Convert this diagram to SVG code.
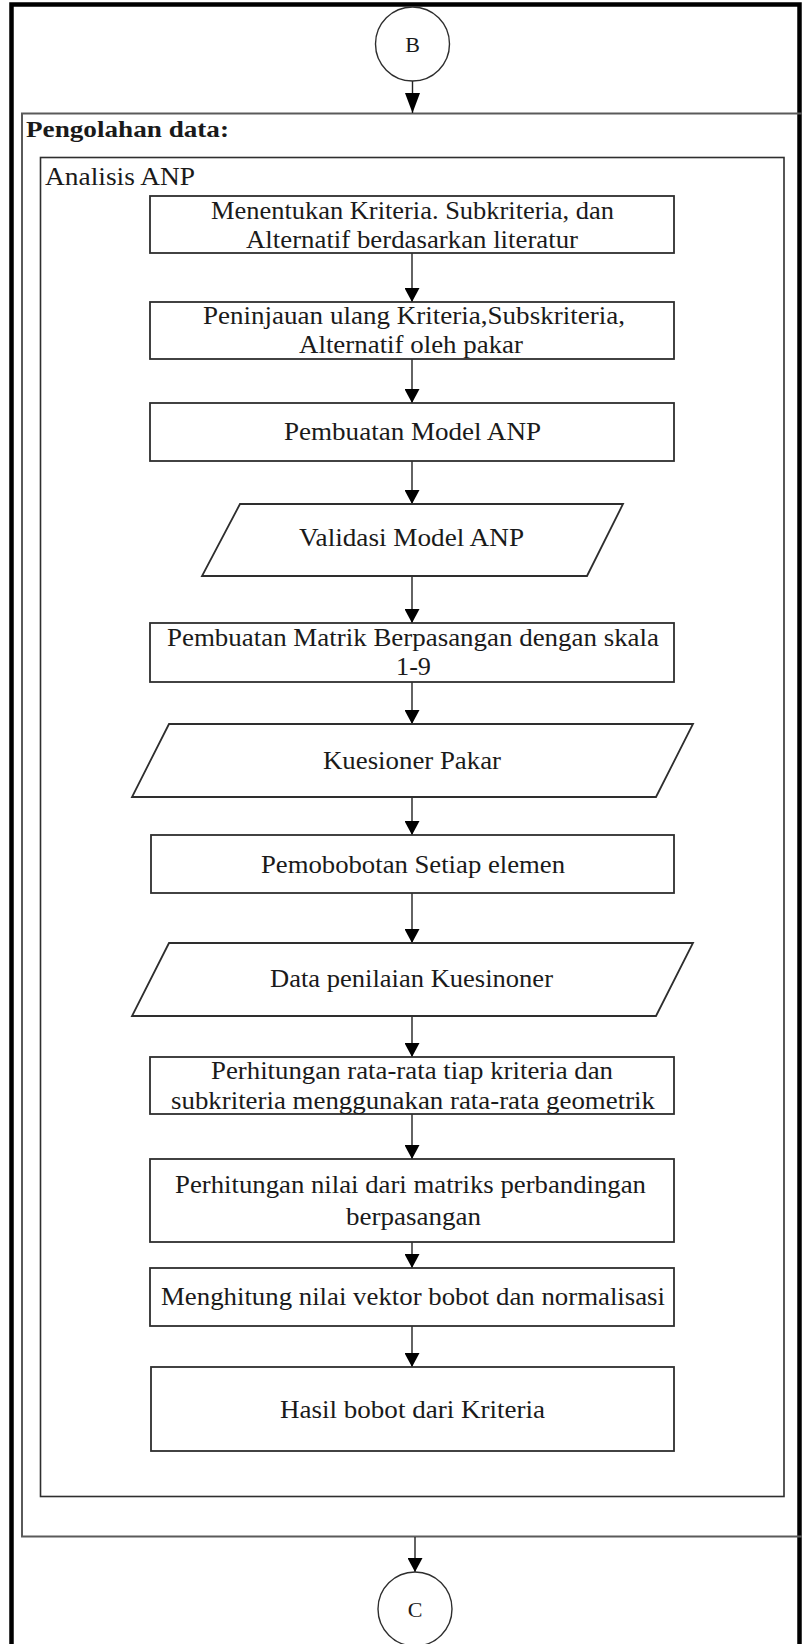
<svg xmlns="http://www.w3.org/2000/svg" width="802" height="1644" viewBox="0 0 802 1644">
  <style>
    .frame { fill: none; stroke: #000; stroke-width: 4.5; }
    .group { fill: none; stroke: #5a5a5a; stroke-width: 2; }
    .inner { fill: none; stroke: #2e2e2e; stroke-width: 1.6; }
    .box { fill: #fff; stroke: #2e2e2e; stroke-width: 1.8; }
    .conn { fill: #fff; stroke: #2e2e2e; stroke-width: 1.4; }
    .edge { fill: none; stroke: #222; stroke-width: 1.4; }
    .t { font-family: "Liberation Serif", "Times New Roman", serif; font-size: 25px; fill: #1a1a1a; text-anchor: middle; }
    .lbl { font-family: "Liberation Serif", "Times New Roman", serif; fill: #1a1a1a; }
    .c { font-family: "Liberation Serif", "Times New Roman", serif; font-size: 22px; fill: #1a1a1a; text-anchor: middle; }
  </style>
  <defs>
    <marker id="arrow" markerUnits="userSpaceOnUse" markerWidth="16" markerHeight="15" refX="14" refY="7.5" orient="auto">
      <path d="M0,0 L14,7.5 L0,15 Z" fill="#000"/>
    </marker>
    <marker id="arrowLong" markerUnits="userSpaceOnUse" markerWidth="22" markerHeight="15" refX="20" refY="7.5" orient="auto">
      <path d="M0,0 L20,7.5 L0,15 Z" fill="#000"/>
    </marker>
  </defs>

  <rect width="802" height="1644" fill="#fff"/>

  <!-- page frame -->
  <rect class="frame" x="11.5" y="4.5" width="788" height="1700"/>

  <!-- process group: Pengolahan data -->
  <g id="pengolahan-data">
    <rect class="group" x="22" y="113.5" width="790" height="1423"/>
    <text class="lbl" x="26" y="137" font-size="24" font-weight="bold" textLength="203" lengthAdjust="spacingAndGlyphs">Pengolahan data:</text>
  </g>

  <!-- sub group: Analisis ANP -->
  <g id="analisis-anp">
    <rect class="inner" x="40.5" y="157.5" width="743.5" height="1339"/>
    <text class="lbl" x="45" y="185" font-size="25" textLength="150" lengthAdjust="spacingAndGlyphs">Analisis ANP</text>
  </g>

  <!-- connectors -->
  <g id="connectors">
    <line class="edge" x1="412.5" y1="81" x2="412.5" y2="113" marker-end="url(#arrowLong)"/>
    <line class="edge" x1="412" y1="253" x2="412" y2="302" marker-end="url(#arrow)"/>
    <line class="edge" x1="412" y1="359" x2="412" y2="403" marker-end="url(#arrow)"/>
    <line class="edge" x1="412" y1="461" x2="412" y2="504" marker-end="url(#arrow)"/>
    <line class="edge" x1="412" y1="576" x2="412" y2="623" marker-end="url(#arrow)"/>
    <line class="edge" x1="412" y1="682" x2="412" y2="724" marker-end="url(#arrow)"/>
    <line class="edge" x1="412" y1="797" x2="412" y2="835" marker-end="url(#arrow)"/>
    <line class="edge" x1="412" y1="893" x2="412" y2="943" marker-end="url(#arrow)"/>
    <line class="edge" x1="412" y1="1016" x2="412" y2="1057" marker-end="url(#arrow)"/>
    <line class="edge" x1="412" y1="1114" x2="412" y2="1159" marker-end="url(#arrow)"/>
    <line class="edge" x1="412" y1="1242" x2="412" y2="1268" marker-end="url(#arrow)"/>
    <line class="edge" x1="412" y1="1326" x2="412" y2="1367" marker-end="url(#arrow)"/>
    <line class="edge" x1="415" y1="1537" x2="415" y2="1572" marker-end="url(#arrow)"/>
  </g>

  <!-- off-page connector B -->
  <g id="conn-b">
    <circle class="conn" cx="412.5" cy="44" r="37"/>
    <text class="c" x="412.5" y="52">B</text>
  </g>

  <g id="step-1">
    <rect class="box" x="150" y="196" width="524" height="57"/>
    <text class="t" x="412.5" y="219" textLength="403" lengthAdjust="spacingAndGlyphs">Menentukan Kriteria. Subkriteria, dan</text>
    <text class="t" x="412" y="248" textLength="332" lengthAdjust="spacingAndGlyphs">Alternatif berdasarkan literatur</text>
  </g>

  <g id="step-2">
    <rect class="box" x="150" y="302" width="524" height="57"/>
    <text class="t" x="414" y="324" textLength="422" lengthAdjust="spacingAndGlyphs">Peninjauan ulang Kriteria,Subskriteria,</text>
    <text class="t" x="411" y="353" textLength="224" lengthAdjust="spacingAndGlyphs">Alternatif oleh pakar</text>
  </g>

  <g id="step-3">
    <rect class="box" x="150" y="403" width="524" height="58"/>
    <text class="t" x="412.5" y="440" textLength="257" lengthAdjust="spacingAndGlyphs">Pembuatan Model ANP</text>
  </g>

  <g id="io-validasi">
    <polygon class="box" points="240,504 623,504 587,576 202,576"/>
    <text class="t" x="411.5" y="546" textLength="225" lengthAdjust="spacingAndGlyphs">Validasi Model ANP</text>
  </g>

  <g id="step-4">
    <rect class="box" x="150" y="623" width="524" height="59"/>
    <text class="t" x="413" y="646" textLength="492" lengthAdjust="spacingAndGlyphs">Pembuatan Matrik Berpasangan dengan skala</text>
    <text class="t" x="413.5" y="675" textLength="35" lengthAdjust="spacingAndGlyphs">1-9</text>
  </g>

  <g id="io-kuesioner">
    <polygon class="box" points="169,724 693,724 656,797 132,797"/>
    <text class="t" x="412" y="769" textLength="178" lengthAdjust="spacingAndGlyphs">Kuesioner Pakar</text>
  </g>

  <g id="step-5">
    <rect class="box" x="151" y="835" width="523" height="58"/>
    <text class="t" x="413" y="873" textLength="304" lengthAdjust="spacingAndGlyphs">Pemobobotan Setiap elemen</text>
  </g>

  <g id="io-data">
    <polygon class="box" points="169,943 693,943 656,1016 132,1016"/>
    <text class="t" x="411.5" y="987" textLength="283" lengthAdjust="spacingAndGlyphs">Data penilaian Kuesinoner</text>
  </g>

  <g id="step-6">
    <rect class="box" x="150" y="1057" width="524" height="57"/>
    <text class="t" x="412" y="1079" textLength="402" lengthAdjust="spacingAndGlyphs">Perhitungan rata-rata tiap kriteria dan</text>
    <text class="t" x="413" y="1109" textLength="484" lengthAdjust="spacingAndGlyphs">subkriteria menggunakan rata-rata geometrik</text>
  </g>

  <g id="step-7">
    <rect class="box" x="150" y="1159" width="524" height="83"/>
    <text class="t" x="410.5" y="1193" textLength="471" lengthAdjust="spacingAndGlyphs">Perhitungan nilai dari matriks perbandingan</text>
    <text class="t" x="413.5" y="1225" textLength="135" lengthAdjust="spacingAndGlyphs">berpasangan</text>
  </g>

  <g id="step-8">
    <rect class="box" x="150" y="1268" width="524" height="58"/>
    <text class="t" x="413" y="1305" textLength="504" lengthAdjust="spacingAndGlyphs">Menghitung nilai vektor bobot dan normalisasi</text>
  </g>

  <g id="step-9">
    <rect class="box" x="151" y="1367" width="523" height="84"/>
    <text class="t" x="412.5" y="1418" textLength="265" lengthAdjust="spacingAndGlyphs">Hasil bobot dari Kriteria</text>
  </g>

  <!-- off-page connector C -->
  <g id="conn-c">
    <circle class="conn" cx="415" cy="1609" r="37"/>
    <text class="c" x="415" y="1617">C</text>
  </g>
</svg>
